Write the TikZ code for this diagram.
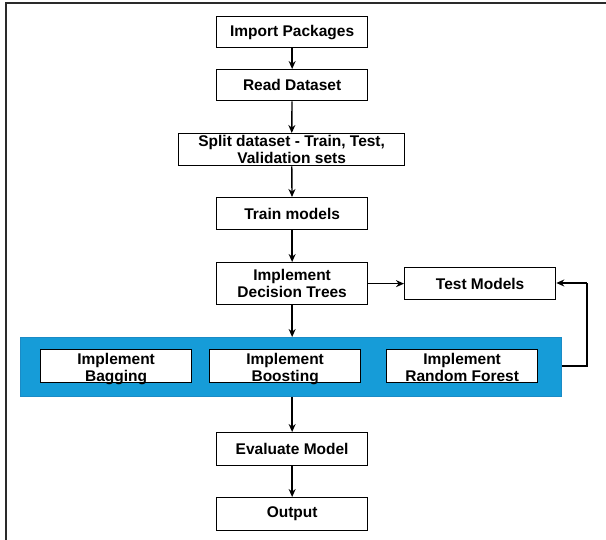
\documentclass[tikz,border=0pt]{standalone}
\usepackage{fontspec}
\setmainfont{Liberation Sans}
\usetikzlibrary{arrows.meta}
\definecolor{band}{HTML}{169CD8}
\definecolor{bandedge}{HTML}{1B8BC6}
\definecolor{frame}{HTML}{2A2A2A}
\begin{document}
\begin{tikzpicture}[x=1pt,y=-1pt,
  lbl/.style={align=center,font=\fontsize{15.5}{17}\selectfont\bfseries,inner sep=0pt},
  box/.style={draw=black,line width=1.3pt,fill=white,lbl,anchor=north west},
  arr/.style={-{Stealth[length=8pt,width=7pt]},line width=1.4pt,black}]
\useasboundingbox (0,0) rectangle (606,540);
\draw[frame,line width=2pt] (5.5,540) -- (5.5,3) -- (606,3);
\node[box,minimum width=151pt,minimum height=31pt] (imp) at (216,16) {Import Packages};
\node[box,minimum width=151pt,minimum height=31pt] (read) at (216,69) {Read Dataset};
\node[box,minimum width=226pt,minimum height=32pt] (split) at (178,133) {Split dataset - Train, Test,\\Validation sets};
\node[box,minimum width=151pt,minimum height=32pt] (train) at (216,197) {Train models};
\node[box,minimum width=151pt,minimum height=42pt] (dt) at (216,262) {Implement\\Decision Trees};
\node[box,minimum width=151pt,minimum height=32pt] (test) at (404,267) {Test Models};
\node[draw=bandedge,fill=band,line width=1pt,minimum width=541pt,minimum height=59pt,anchor=north west,inner sep=0pt] (bandbox) at (20,337) {};
\node[box,minimum width=151pt,minimum height=33pt] (bag) at (40,349) {};
\node[box,minimum width=151pt,minimum height=33pt] (boost) at (209,349) {};
\node[box,minimum width=151pt,minimum height=33pt] (rf) at (386,349) {};
\node[lbl] (bagt) at ([yshift=-3pt]bag.center) {Implement\\Bagging};
\node[lbl] (boostt) at ([yshift=-3pt]boost.center) {Implement\\Boosting};
\node[lbl] (rft) at ([yshift=-1.5pt]rf.center) {Implement\\Random Forest};
\node[box,minimum width=151pt,minimum height=33pt] (eval) at (216,432) {Evaluate Model};
\node[box,minimum width=151pt,minimum height=33pt] (out) at (216,497) {Output};
\coordinate (c1) at (587,366);
\coordinate (c2) at (587,283);
\draw[arr] (imp) -- (read);
\draw[arr] (read) -- (split);
\draw[arr] (split) -- (train);
\draw[arr] (train) -- (dt);
\draw[arr] (dt) -- (test);
\draw[arr] (dt.south) -- (dt.south |- bandbox.north);
\draw[arr] (dt.south |- bandbox.south) -- (eval.north);
\draw[arr] (eval) -- (out);
\draw[line width=1.4pt] (bandbox.east |- c1) -- (c1) -- (c2);
\draw[arr] (c2) -- (test.east |- c2);
\end{tikzpicture}
\end{document}
